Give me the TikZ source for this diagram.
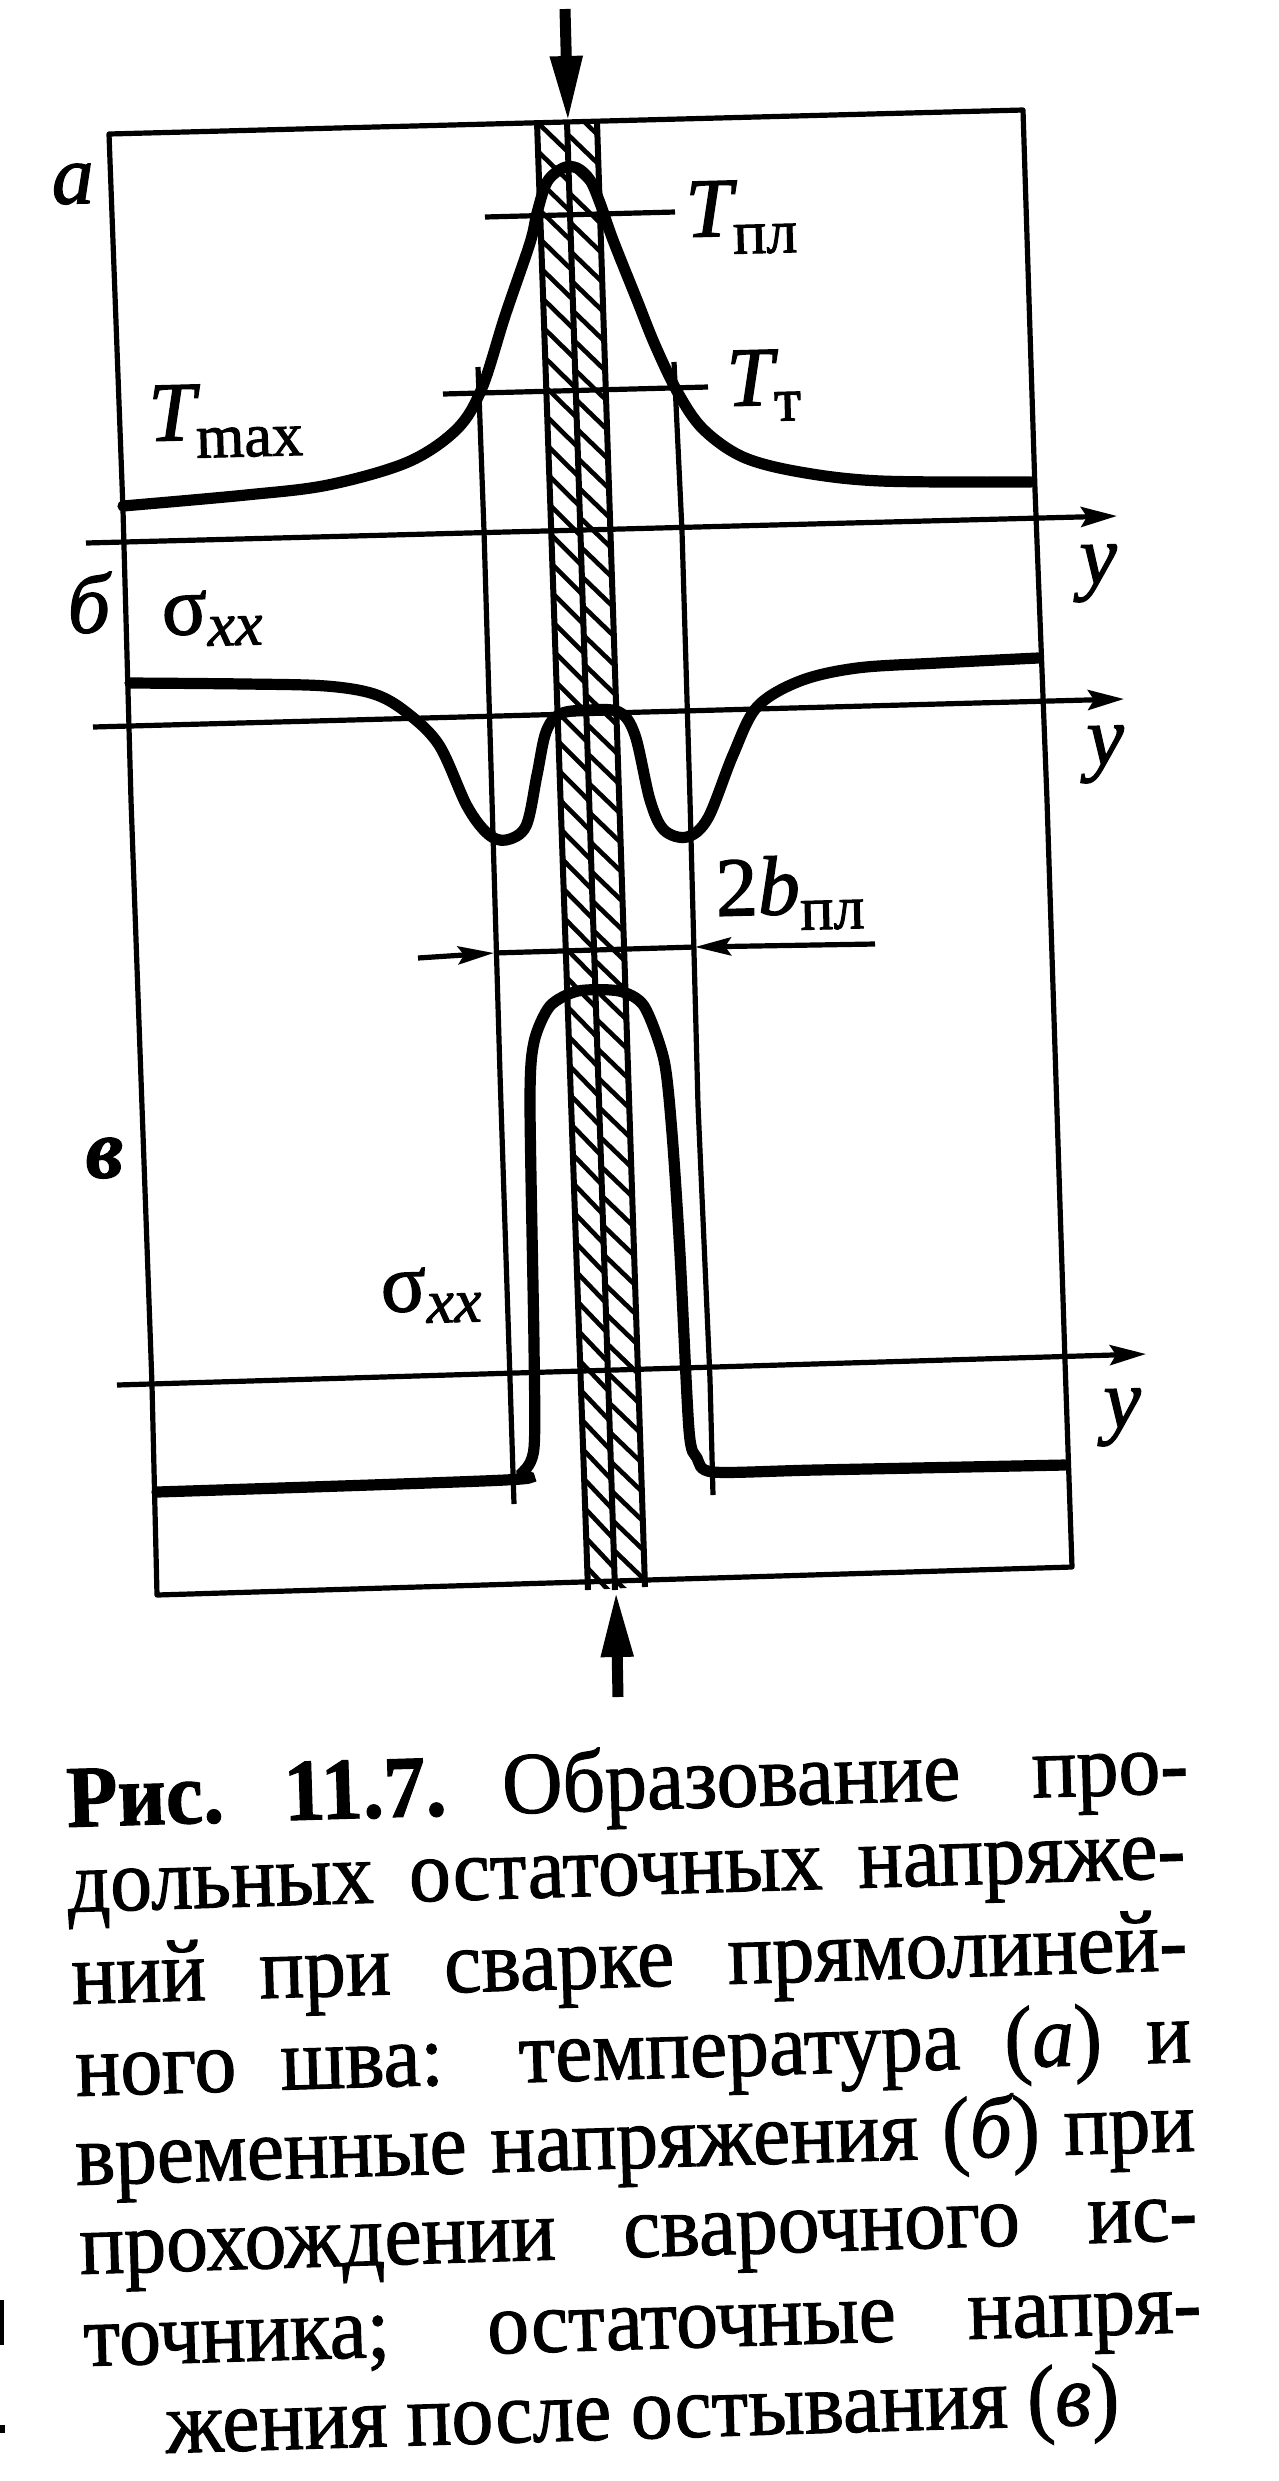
\documentclass[tikz,border=0pt]{standalone}
\usepackage{fontspec}
\setmainfont{Liberation Serif}[FakeBold=1.6]
\newfontfamily\capfont{Liberation Serif}[FakeBold=1.2,FakeStretch=0.95]
\usetikzlibrary{arrows.meta}
\newcommand{\szA}{\fontsize{42}{42}\selectfont}
\newcommand{\szB}{\fontsize{31}{31}\selectfont}
\newcommand{\szC}{\capfont\fontsize{44}{46}\selectfont}
\newcommand{\capline}[2]{\makebox[#1pt][s]{#2}}
\tikzset{
  thinline/.style={line width=2.6pt},
  striprule/.style={line width=3pt},
  thickcurve/.style={line width=5.6pt,line cap=round},
  hatchline/.style={line width=2.3pt},
  axisline/.style={line width=2.6pt,-{Stealth[length=18pt,width=10pt,inset=3pt]}},
  bigarrow/.style={line width=5.5pt,-{Stealth[length=33pt,width=15pt,inset=0pt]}},
  dimarrow/.style={line width=2.6pt,-{Stealth[length=18pt,width=9pt,inset=3pt]}},
  lab/.style={inner sep=0pt,anchor=base west,rotate=1.5,font=\szA},
  capnode/.style={inner sep=0pt,anchor=base west,rotate=1.75,font=\szC},
}
\begin{document}
\begin{tikzpicture}[x=0.5pt,y=-0.5pt]
\useasboundingbox[fill=white] (0,0) rectangle (1279,2481);

% hatched strip
\begin{scope}
  \clip (537,122) -- (597,122) -- (645,1587) -- (588,1590) -- cycle;
  \foreach \k in {-1,...,50}{
    \pgfmathsetmacro\ya{122+29.5*\k}
    \pgfmathsetmacro\yb{\ya+30}
    \pgfmathsetmacro\yc{\ya+12}
    \pgfmathsetmacro\yd{\yc+30}
    \draw[hatchline] ({537+.0347*(\ya-122)},\ya) -- ({567+.0327*(\yb-122)},\yb);
    \draw[hatchline] ({567+.0327*(\yc-122)},\yc) -- ({597+.0328*(\yd-122)},\yd);
  }
\end{scope}
\draw[striprule] (537,122) -- (588,1590);
\draw[striprule] (567,122) -- (615,1590);
\draw[striprule] (597,122) -- (645,1587);

% frame
\draw[thinline,line join=round] (109,134) -- (1023,110) -- (1035,490) -- (1047,800) -- (1065,1361) -- (1072,1567)
  -- (157,1595) -- (152,1385) -- (131,800) -- (123,510) -- cycle;

% verticals
\draw[thinline] (478,367) -- (484,531) -- (492,800) -- (500,1074) -- (510,1379) -- (514,1504);
\draw[thinline] (674,362) -- (682,531) -- (690,800) -- (698,1105) -- (710,1379) -- (713,1495);

% level lines
\coordinate (pla) at (485,217); \coordinate (plb) at (675,212);
\coordinate (tta) at (443,394); \coordinate (ttb) at (708,387);
\draw[thinline] (pla) -- (plb);
\draw[thinline] (tta) -- (ttb);

% axes
\coordinate (axa1) at (86,543); \coordinate (axa2) at (1117,516);
\coordinate (axb1) at (93,727); \coordinate (axb2) at (1124,699);
\coordinate (axc1) at (117,1385); \coordinate (axc2) at (1146,1354);
\draw[axisline] (axa1) -- (axa2);
\draw[axisline] (axb1) -- (axb2);
\draw[axisline] (axc1) -- (axc2);

% dimension 2b
\coordinate (da) at (418,958); \coordinate (db) at (494,953);
\coordinate (dc) at (695,947); \coordinate (dd) at (875,944);
\draw[thinline] (db) -- (dc);
\draw[dimarrow] (da) -- (db);
\draw[dimarrow] (dd) -- (dc);

% top and bottom arrows
\coordinate (ta) at (565,9); \coordinate (tb) at (568,122);
\coordinate (ba) at (618,1697); \coordinate (bb) at (616,1591);
\draw[bigarrow] (ta) -- (tb);
\draw[bigarrow] (ba) -- (bb);

% curves
\draw[thickcurve] plot[smooth,tension=0.55] coordinates {(123,506) (246,495) (328,485) (408,462) (457,429) (482,388) (505,316) (530,243) (537,213) (547,182) (563,168) (577,168) (590,180) (600,203) (613,240) (637,300) (655,345) (678,393) (703,429) (743,457) (800,472) (881,481) (1031,482)};
\draw[thickcurve] plot[smooth,tension=0.55] coordinates {(130,683) (246,684) (326,686) (374,694) (406,712) (439,745) (467,806) (488,834) (506,840) (526,826) (537,775) (546,732) (560,714) (588,710) (619,712) (635,735) (650,800) (664,830) (687,837) (708,818) (733,755) (757,707) (800,681) (857,668) (938,663) (1038,658)};
\draw[thickcurve] plot[smooth,tension=0.45] coordinates {(157,1492) (505,1480) (522,1473) (534,1448) (534,1345) (530,1103) (534,1042) (550,1006) (578,991) (619,991) (644,1006) (664,1060) (672,1133) (680,1254) (689,1430) (697,1458) (713,1472) (816,1470) (1065,1465)};

% labels
\node[lab] (la) at (52,204) {\itshape a};
\node[lab] (lb) at (68,633) {\itshape б};
\node[lab] (lc) at (86,1178) {\bfseries\itshape в};
\node[lab] (tmax) at (149,441) {\itshape T\raisebox{-9pt}{\szB\upshape max}};
\node[lab] (tpl) at (686,237) {\itshape T\raisebox{-9pt}{\szB\upshape пл}};
\node[lab] (tt) at (727,406) {\itshape T\raisebox{-8pt}{\szB\upshape т}};
\node[lab] (ya) at (1080,584) {\itshape y};
\node[lab] (yb) at (1087,765) {\itshape y};
\node[lab] (yc) at (1104,1428) {\itshape y};
\node[lab] (s1) at (162,635) {σ\raisebox{-6pt}{\szB\itshape xx}};
\node[lab] (s2) at (381,1312) {σ\raisebox{-6pt}{\szB\itshape xx}};
\node[lab] (twob) at (716,916) {2\itshape b\raisebox{-8pt}{\szB\upshape пл}};

% caption
\node[capnode] (c1) at (67,1827) {\capline{561}{\textbf{Рис.}\hspace{30pt}\textbf{11.7.}\hspace{28pt}Образование\hfill про-}};
\node[capnode] (c2) at (68,1912) {\capline{559}{дольных остаточных напряже-}};
\node[capnode] (c3) at (72,2004) {\capline{558}{ний при сварке прямолиней-}};
\node[capnode] (c4) at (76,2096) {\capline{558}{ного шва: температура ({\itshape а}) и}};
\node[capnode] (c5) at (76,2185) {\capline{560}{временные напряжения ({\itshape б}) при}};
\node[capnode] (c6) at (80,2274) {\capline{559}{прохождении сварочного ис-}};
\node[capnode] (c7) at (84,2366) {\capline{559}{точника; остаточные напря-}};
\node[capnode] (c8) at (166,2453) {\capline{477}{жения после остывания ({\itshape в})}};

% scan specks at the left edge
\fill (0,2300) rectangle (4,2345);
\fill (0,2425) rectangle (5,2433);
\end{tikzpicture}
\end{document}
